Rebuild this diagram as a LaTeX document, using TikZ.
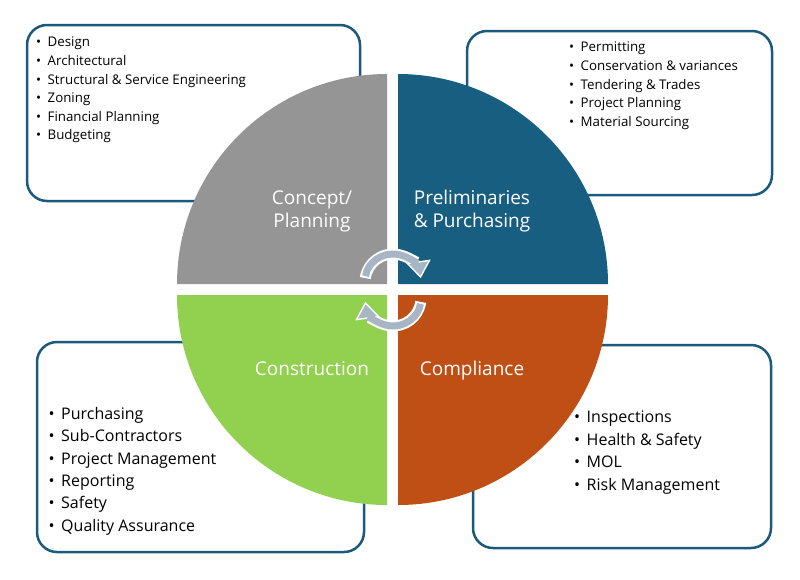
\documentclass[tikz,border=0pt]{standalone}
\usepackage{fontspec}
\setmainfont{Open Sans}
\usetikzlibrary{arrows.meta}
\definecolor{planGray}{HTML}{959595}
\definecolor{prelimBlue}{HTML}{175E80}
\definecolor{buildGreen}{HTML}{92D050}
\definecolor{complyOrange}{HTML}{C04F15}
\definecolor{boxBlue}{HTML}{1B5A7D}
\definecolor{cycleGray}{HTML}{A7B5C4}
\tikzset{
  listbox/.style={draw=boxBlue, line width=2.5pt, rounded corners=20pt, fill=white},
  phase/.style={text=white, align=center, inner sep=0pt, font=\fontsize{19}{23}\selectfont},
  smalllist/.style={anchor=north west, align=left, inner sep=0pt, font=\fontsize{13.3}{18.6}\selectfont},
  biglist/.style={anchor=north west, align=left, inner sep=0pt, font=\fontsize{16}{22.4}\selectfont},
  cycleback/.style={white, line width=11pt, -{Triangle[length=17pt,width=25pt,line width=0pt]}},
  cyclefront/.style={cycleGray, line width=7pt, shorten <=2pt, shorten >=2.5pt, -{Triangle[length=13pt,width=19pt,line width=0pt]}}
}
\newcommand{\bul}{\textbullet\hspace{6.5pt}}
\begin{document}
\begin{tikzpicture}[x=1pt, y=-1pt]
\fill[white] (0,0) rectangle (800,579);
\useasboundingbox (0,0) rectangle (800,579);
\draw[listbox] (27,25) rectangle (360,201);
\draw[listbox] (467,31) rectangle (772,195);
\draw[listbox] (37,342) rectangle (364,552);
\draw[listbox] (473,345) rectangle (771,548);
\fill[planGray] (387,284) -- (177,284) arc (180:270:210) -- cycle;
\fill[prelimBlue] (398,284) -- (398,74) arc (270:360:210) -- cycle;
\fill[buildGreen] (387,295) -- (387,505) arc (90:180:210) -- cycle;
\fill[complyOrange] (398,295) -- (608,295) arc (0:90:210) -- cycle;
\draw[cycleback] (393,282) ++(188:28) arc (188:352:28);
\draw[cyclefront] (393,282) ++(188:28) arc (188:352:28);
\draw[cycleback] (393,298) ++(8:28) arc (8:172:28);
\draw[cyclefront] (393,298) ++(8:28) arc (8:172:28);
\node[phase] (concept) at (312,211) {Concept/\\Planning};
\node[phase] (prelim) at (472,211) {Preliminaries\\\& Purchasing};
\node[phase] (build) at (312,369) {Construction};
\node[phase] (comply) at (472,371) {Compliance};
\node[smalllist] (conceptlist) at (36,37) {\bul Design\\\bul Architectural\\\bul Structural \& Service Engineering\\\bul Zoning\\\bul Financial Planning\\\bul Budgeting};
\node[smalllist] (prelimlist) at (569,42) {\bul Permitting\\\bul Conservation \& variances\\\bul Tendering \& Trades\\\bul Project Planning\\\bul Material Sourcing};
\node[biglist] (buildlist) at (48.5,407) {\bul Purchasing\\\bul Sub-Contractors\\\bul Project Management\\\bul Reporting\\\bul Safety\\\bul Quality Assurance};
\node[biglist] (complylist) at (574,411) {\bul Inspections\\\bul Health \& Safety\\\bul MOL\\\bul Risk Management};
\end{tikzpicture}
\end{document}
